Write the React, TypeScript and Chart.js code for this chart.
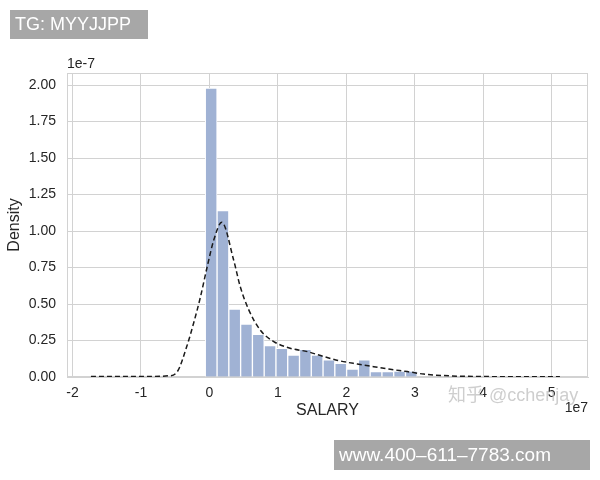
import React, { useEffect, useRef } from "react";
import { Chart, registerables } from "chart.js";

Chart.register(...registerables);

// Histogram (SALARY, x in units of 1e7, density in units of 1e-7)
const binStart = -0.06;
const binWidth = 0.172;
const binHeights = [
  1.98, 1.14, 0.465, 0.362, 0.293, 0.215, 0.197, 0.151, 0.19, 0.151, 0.117,
  0.094, 0.055, 0.117, 0.037, 0.037, 0.04, 0.04,
];

// KDE curve
const kdeX = [
  -1.73, -1.0, -0.6, -0.47, -0.33, -0.23, -0.13, -0.03, 0.065, 0.18, 0.355,
  0.45, 0.575, 0.745, 0.94, 1.18, 1.43, 1.67, 1.91, 2.16, 2.4, 2.64, 2.89,
  3.13, 3.5, 4.0, 4.5, 5.12,
];
const kdeY = [
  0.003, 0.003, 0.008, 0.036, 0.21, 0.37, 0.55, 0.76, 0.94, 1.06, 0.8, 0.62,
  0.46, 0.32, 0.243, 0.197, 0.174, 0.14, 0.11, 0.089, 0.071, 0.053, 0.037,
  0.02, 0.008, 0.003, 0.002, 0.002,
];

const xTicks = [-2, -1, 0, 1, 2, 3, 4, 5];
const yTicks = [0, 0.25, 0.5, 0.75, 1.0, 1.25, 1.5, 1.75, 2.0];

const FONT = '"Liberation Sans", Arial, "Noto Sans CJK SC", sans-serif';
const GRID = "#d2d2d2";
const TEXT = "#262626";

const overlayPlugin = {
  id: "overlay",
  beforeDatasetsDraw(chart: any) {
    const { ctx, chartArea: a } = chart;
    ctx.save();
    ctx.strokeStyle = GRID;
    ctx.lineWidth = 1;
    ctx.strokeRect(a.left + 0.5, a.top + 0.5, a.right - a.left - 1, a.bottom - a.top - 1);
    ctx.restore();
  },
  afterDraw(chart: any) {
    const { ctx, chartArea: a } = chart;
    ctx.save();
    ctx.fillStyle = TEXT;
    ctx.font = `14px ${FONT}`;
    ctx.textBaseline = "middle";
    ctx.textAlign = "left";
    ctx.fillText("1e-7", a.left, 64);
    ctx.textAlign = "right";
    ctx.fillText("1e7", a.right, 408);

    ctx.font = `16px ${FONT}`;
    ctx.textAlign = "center";
    ctx.fillText("SALARY", (a.left + a.right) / 2, 411);
    ctx.save();
    ctx.translate(15, (a.top + a.bottom) / 2);
    ctx.rotate(-Math.PI / 2);
    ctx.fillText("Density", 0, 0);
    ctx.restore();

    // watermark
    ctx.font = `18px ${FONT}`;
    ctx.textAlign = "left";
    ctx.fillStyle = "rgba(190,190,190,0.75)";
    ctx.fillText("知乎 @cchenjay", 448, 396);

    // gray boxes
    ctx.fillStyle = "#a7a7a7";
    ctx.fillRect(10, 10, 138, 29);
    ctx.fillRect(334, 440, 256, 30);
    ctx.fillStyle = "#ffffff";
    ctx.font = `18px ${FONT}`;
    ctx.fillText("TG: MYYJJPP", 15, 25);
    ctx.font = `19px ${FONT}`;
    ctx.fillText("www.400–611–7783.com", 339, 456);
    ctx.restore();
  },
};

export default function App() {
  const ref = useRef<HTMLCanvasElement>(null);
  useEffect(() => {
    const barData = binHeights.map((h, i) => ({
      x: binStart + binWidth * (i + 0.5),
      y: h,
    }));
    const lineData = kdeX.map((x, i) => ({ x, y: kdeY[i] }));
    const chart = new Chart(ref.current as HTMLCanvasElement, {
      type: "bar",
      data: {
        datasets: [
          {
            type: "line",
            data: lineData,
            borderColor: "#1a1a1a",
            borderWidth: 1.5,
            borderDash: [5, 3],
            pointRadius: 0,
            cubicInterpolationMode: "monotone",
            fill: false,
            order: 0,
          } as any,
          {
            type: "bar",
            data: barData,
            backgroundColor: "rgb(160,178,212)",
            borderColor: "#ffffff",
            borderWidth: 1,
            categoryPercentage: 1,
            barPercentage: 1,
            order: 1,
          } as any,
        ],
      },
      options: {
        responsive: false,
        animation: false,
        layout: { padding: { top: 73, right: 12, left: 0, bottom: 0 } },
        plugins: { legend: { display: false }, tooltip: { enabled: false } },
        scales: {
          x: {
            type: "linear",
            offset: false,
            min: -2.08,
            max: 5.53,
            afterBuildTicks: (s: any) => {
              s.ticks = xTicks.map((v) => ({ value: v }));
            },
            afterFit: (s: any) => {
              s.height = 103;
            },
            grid: { color: GRID, drawTicks: false, offset: false },
            border: { color: GRID },
            ticks: {
              padding: 8,
              color: TEXT,
              font: { family: FONT, size: 14 },
              callback: (v: any) => String(v),
              maxRotation: 0,
            },
          },
          y: {
            type: "linear",
            min: 0,
            max: 2.083,
            afterBuildTicks: (s: any) => {
              s.ticks = yTicks.map((v) => ({ value: v }));
            },
            afterFit: (s: any) => {
              s.width = 67;
            },
            grid: { color: GRID, drawTicks: false },
            border: { color: GRID },
            ticks: {
              padding: 11,
              color: TEXT,
              font: { family: FONT, size: 14 },
              callback: (v: any) => Number(v).toFixed(2),
            },
          },
        },
      },
      plugins: [overlayPlugin],
    });
    return () => chart.destroy();
  }, []);
  return (
    <div style={{ position: "fixed", left: 0, top: 0, width: 600, height: 480, background: "#fff" }}>
      <canvas ref={ref} width={600} height={480} />
    </div>
  );
}
